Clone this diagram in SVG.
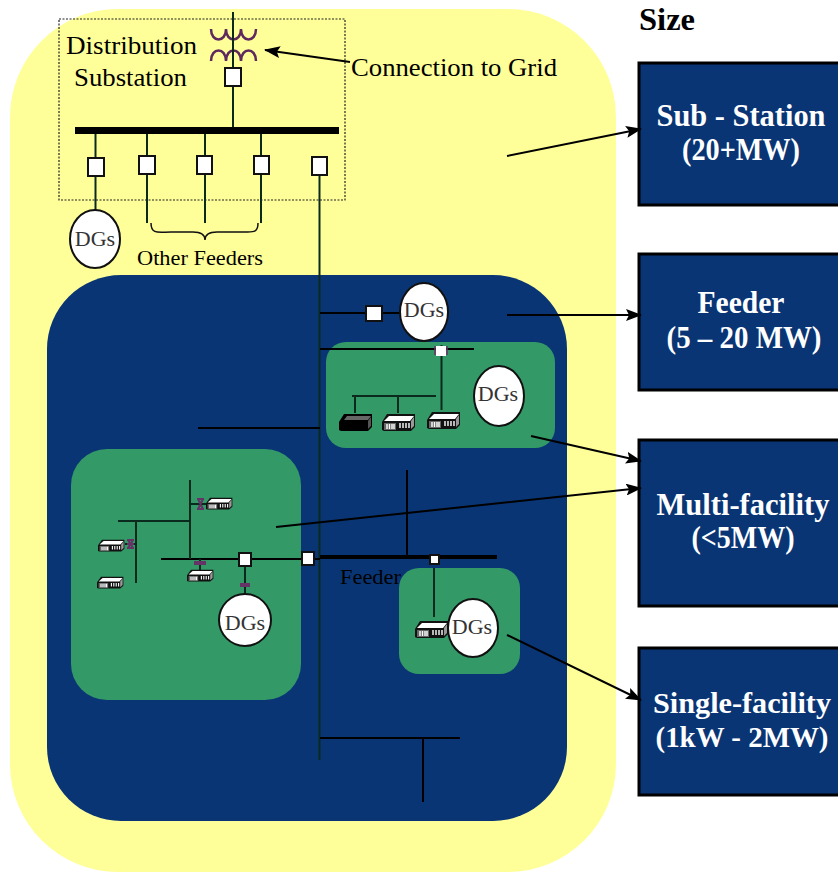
<svg xmlns="http://www.w3.org/2000/svg" width="838" height="872" viewBox="0 0 838 872">
<style>
.s{font-family:"Liberation Serif","Times New Roman",serif;fill:#000}
.w{font-family:"Liberation Serif","Times New Roman",serif;fill:#fff;font-weight:bold;font-size:31px;text-anchor:middle}
.d{font-family:"Liberation Serif","Times New Roman",serif;fill:#333;font-size:22px;text-anchor:middle}
.l{stroke:#0a2a1e;stroke-width:2;fill:none}
.k{stroke:#000;stroke-width:2;fill:none}
.sw{fill:#fff;stroke:#111;stroke-width:2}
.dg{fill:#fff;stroke:#111;stroke-width:2}
.box{fill:#0a3575;stroke:#000;stroke-width:3}
.green{fill:#339966}
.pu{stroke:#663366;stroke-width:2;fill:none}
</style>
<defs>
<marker id="a" markerWidth="16" markerHeight="12" refX="15" refY="6" orient="auto" markerUnits="userSpaceOnUse"><path d="M0 0L16 6L0 12L3 6Z" fill="#000"/></marker>
<g id="b">
<path d="M0 9L5 1H33V14L29 18H2L0 17Z" fill="#111"/>
<path d="M2 8L7 3H32L28 8Z" fill="#fff"/>
<path d="M2 10H14V17H2Z" fill="#666"/>
<path d="M5 11v5M7.500 11v5M10 11v5M12 11v5M18 10v5M21 10v5M24 10v5M27 10v5" stroke="#fff" stroke-width="1.400"/>
<path d="M29 8L32 4V13L29 16Z" fill="#999"/>
</g>
<g id="bk">
<path d="M0 9L5 1H33V14L29 18H2L0 17Z" fill="#000"/>
<path d="M5 7L8 3H32L29 7Z" fill="#666"/>
<path d="M29 8L32 4V13L29 16Z" fill="#555"/>
</g>
</defs>
<rect width="838" height="872" fill="#fff"/>
<g id="regions">
<rect x="10" y="9" width="606" height="863" rx="108" fill="#ffff99"/>
<rect x="47" y="275" width="520" height="546" rx="74" fill="#0a3575"/>
</g>
<g id="multi-facility-a"><rect class="green" x="326" y="342" width="229" height="106" rx="20"/></g>
<g id="multi-facility-b"><rect class="green" x="71" y="449" width="230" height="251" rx="36"/></g>
<g id="single-facility"><rect class="green" x="399" y="568" width="121" height="106" rx="20"/></g>
<g id="substation">
<rect x="59" y="19" width="286" height="181" fill="none" stroke="#222" stroke-width="1.200" stroke-dasharray="2 1.500"/>
<text class="s" x="66" y="54" font-size="26" textLength="131" lengthAdjust="spacingAndGlyphs">Distribution</text>
<text class="s" x="74" y="86" font-size="26" textLength="113" lengthAdjust="spacingAndGlyphs">Substation</text>
<path d="M211 29c0 14 15 14 15 0c0 14 15 14 15 0c0 14 15 14 15 0M211 61c0-14 15-14 15 0c0-14 15-14 15 0c0-14 15-14 15 0" fill="none" stroke="#5e2a5e" stroke-width="2.500"/>
</g>
<g id="connectors">
<path class="l" d="M233 12V50M233 50V68M233 86V127"/>
<rect x="75" y="127" width="264" height="7" fill="#000"/>
<path class="l" d="M95.500 134V210M147 134V223M205 134V223M261 134V223M319.500 175V760"/>
<path d="M151 223c0 12 8 9 20 9h22c8 0 12 3 12 8c0-5 4-8 12-8h28c8 0 13 1 13-9" fill="none" stroke="#111" stroke-width="1.500"/>
<path class="k" d="M320 313H400M320 349H474M198 428H320M320 738H460M423 738V802M407 470V557"/>
<path d="M320 557H497" stroke="#000" stroke-width="4"/>
<path class="l" d="M441.500 345V410M352 396H436M355 396V413M398 396V413"/>
<path class="k" d="M161 559H320"/>
<path class="l" d="M190 480V559M118 521H190M136 521V583M190 504H208M125 544H136M200 559V570M245 566V594M434 568V617"/>
<path class="pu" d="M197 499h7M197 509h7M198 499l5 10M203 499l-5 10M127 540h7M127 548h7M127 544h7M128 540l5 8M133 540l-5 8"/>
<path d="M194 563h12" stroke="#663366" stroke-width="4"/>
<path d="M240 585h10" stroke="#663366" stroke-width="4"/>
<path d="M435 346v9M447 346v9" stroke="#663366" stroke-width="1.500"/>
<path class="k" d="M350 62L265 50" marker-end="url(#a)"/>
</g>
<g id="switches">
<rect class="sw" x="225" y="68" width="16" height="18"/>
<rect class="sw" x="88" y="158" width="16" height="18"/>
<rect class="sw" x="139" y="156" width="16" height="18"/>
<rect class="sw" x="197" y="156" width="15" height="18"/>
<rect class="sw" x="254" y="156" width="15" height="18"/>
<rect class="sw" x="312" y="157" width="15" height="18"/>
<rect class="sw" x="366" y="306" width="16" height="15"/>
<rect x="436" y="346" width="10" height="10" fill="#fff"/>
<rect class="sw" x="239" y="553" width="12" height="13" stroke-width="1"/>
<rect class="sw" x="302" y="552" width="12" height="13"/>
<rect class="sw" x="430" y="555" width="9" height="9" stroke-width="1"/>
</g>
<g id="buildings">
<use href="#bk" x="339" y="413"/>
<use href="#b" x="382" y="413"/>
<use href="#b" x="427" y="411"/>
<use href="#b" transform="translate(206 497) scale(.8 .7)"/>
<use href="#b" transform="translate(98 539) scale(.8 .7)"/>
<use href="#b" transform="translate(97 576) scale(.8 .7)"/>
<use href="#b" transform="translate(187 569) scale(.8 .7)"/>
<use href="#b" x="415" y="620"/>
</g>
<g id="dg-1"><ellipse class="dg" cx="95" cy="239" rx="25" ry="29"/><text class="d" x="95" y="246" font-size="19">DGs</text></g>
<g id="dg-2"><ellipse class="dg" cx="424" cy="312" rx="24" ry="29"/><text class="d" x="424" y="317">DGs</text></g>
<g id="dg-3"><ellipse class="dg" cx="499" cy="396" rx="25" ry="30"/><text class="d" x="498" y="401">DGs</text></g>
<g id="dg-4"><circle class="dg" cx="245" cy="620" r="26"/><text class="d" x="245" y="630">DGs</text></g>
<g id="dg-5"><ellipse class="dg" cx="473" cy="628" rx="25" ry="29"/><text class="d" x="472" y="634">DGs</text></g>
<g id="labels">
<text class="s" x="351" y="76" font-size="26" textLength="206" lengthAdjust="spacingAndGlyphs">Connection to Grid</text>
<text class="s" x="137" y="265" font-size="22" textLength="126" lengthAdjust="spacingAndGlyphs">Other Feeders</text>
<text class="s" x="340" y="584" font-size="22" textLength="61" lengthAdjust="spacingAndGlyphs">Feeder</text>
<text class="s" x="639" y="30" font-size="32" font-weight="bold" textLength="56" lengthAdjust="spacingAndGlyphs">Size</text>
</g>
<g id="size-substation"><rect class="box" x="639" y="63" width="210" height="142"/><text class="w" x="741" y="126" textLength="169" lengthAdjust="spacingAndGlyphs">Sub - Station</text><text class="w" x="741" y="160" textLength="118" lengthAdjust="spacingAndGlyphs">(20+MW)</text></g>
<g id="size-feeder"><rect class="box" x="639" y="254" width="210" height="136"/><text class="w" x="741" y="313" textLength="87" lengthAdjust="spacingAndGlyphs">Feeder</text><text class="w" x="744" y="348" textLength="155" lengthAdjust="spacingAndGlyphs">(5 – 20 MW)</text></g>
<g id="size-multi"><rect class="box" x="639" y="440" width="210" height="166"/><text class="w" x="743" y="515" textLength="173" lengthAdjust="spacingAndGlyphs">Multi-facility</text><text class="w" x="743" y="548" textLength="103" lengthAdjust="spacingAndGlyphs">(&lt;5MW)</text></g>
<g id="size-single"><rect class="box" x="639" y="648" width="210" height="147"/><text class="w" x="742" y="713" style="font-size:30px" textLength="178" lengthAdjust="spacingAndGlyphs">Single-facility</text><text class="w" x="742" y="747" style="font-size:29px" textLength="173" lengthAdjust="spacingAndGlyphs">(1kW - 2MW)</text></g>
<g id="size-arrows">
<path class="k" d="M507 156L641 129" marker-end="url(#a)"/>
<path class="k" stroke-width="3" d="M507 315H641" marker-end="url(#a)"/>
<path class="k" d="M531 436L641 461" marker-end="url(#a)"/>
<path class="k" d="M276 527L641 488" marker-end="url(#a)"/>
<path class="k" d="M507 635L641 700" marker-end="url(#a)"/>
</g>
</svg>
